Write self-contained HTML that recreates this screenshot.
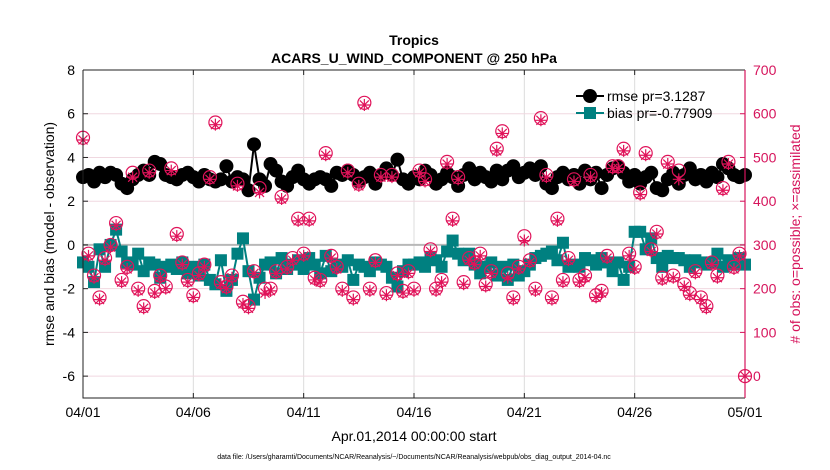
<!DOCTYPE html>
<html><head><meta charset="utf-8"><style>
body{margin:0;background:#fff;}
svg{display:block;font-family:"Liberation Sans",sans-serif;}
</style></head><body>
<svg id="chart" width="830" height="470" xmlns="http://www.w3.org/2000/svg">
<text x="414" y="45" text-anchor="middle" font-size="14" font-weight="bold">Tropics</text>
<text x="414" y="63" text-anchor="middle" font-size="14" font-weight="bold">ACARS_U_WIND_COMPONENT @ 250 hPa</text>
<g id="grid"></g><g id="marks"></g><g id="axes"></g>
<text transform="translate(54,234) rotate(-90)" text-anchor="middle" font-size="14">rmse and bias (model - observation)</text>
<text transform="translate(800,234) rotate(-90)" text-anchor="middle" font-size="14" fill="#d6145c"># of obs: o=possible; ×=assimilated</text>
<text x="414" y="441" text-anchor="middle" font-size="14">Apr.01,2014 00:00:00 start</text>
<text x="414" y="459" text-anchor="middle" font-size="7">data file: /Users/gharamti/Documents/NCAR/Reanalysis/~/Documents/NCAR/Reanalysis/webpub/obs_diag_output_2014-04.nc</text>
<g>
<line x1="576" y1="96" x2="604" y2="96" stroke="#000" stroke-width="2"/><circle cx="590" cy="96" r="7" fill="#000"/>
<text x="607" y="101" font-size="14">rmse pr=3.1287</text>
<line x1="576" y1="113" x2="604" y2="113" stroke="#008080" stroke-width="2"/><rect x="584" y="107" width="12" height="12" fill="#008080"/>
<text x="607" y="118" font-size="14">bias pr=-0.77909</text>
</g>
</svg>
<script>
const xTicks=["04/01","04/06","04/11","04/16","04/21","04/26","05/01"];
const yTicks=[8,6,4,2,0,-2,-4,-6];
const rTicks=[700,600,500,400,300,200,100,0];
const rmse=[3.1,3.2,2.9,3.3,3.1,3.3,3.2,2.8,2.6,3.0,3.2,3.4,3.2,3.8,3.7,3.2,3.1,3.0,3.2,3.3,3.1,2.9,3.2,3.0,2.9,3.0,3.6,2.9,3.1,3.0,2.5,4.6,3.0,2.7,3.7,3.4,2.9,2.7,3.1,3.4,3.0,2.8,3.0,3.1,3.0,2.7,3.3,3.2,3.4,3.2,2.9,3.1,3.3,2.8,3.2,3.5,3.2,3.9,3.0,2.8,3.1,3.0,3.4,3.2,2.8,3.0,3.3,3.1,2.7,3.2,3.5,3.0,3.3,3.1,2.9,3.4,3.0,3.4,3.6,3.1,3.3,3.5,3.2,3.6,2.8,2.6,3.1,3.3,3.0,3.2,2.8,3.4,3.0,3.3,2.6,3.2,3.5,3.6,3.3,2.9,3.2,2.8,3.1,3.3,2.6,2.5,3.0,3.3,2.8,3.2,3.5,3.0,3.2,2.9,3.3,3.1,3.7,3.5,3.2,3.1,3.2];
const bias=[-0.8,-1.0,-1.7,-0.2,-1.0,0.0,0.7,-0.3,-0.8,-0.9,-0.4,-1.2,-0.8,-0.9,-1.5,-1.0,-0.9,-1.1,-0.8,-1.3,-1.0,-1.4,-0.9,-1.6,-1.8,-0.7,-2.1,-1.6,-0.4,0.3,-1.2,-2.5,-1.5,-0.9,-0.8,-1.3,-0.6,-1.1,-0.9,-0.7,-1.1,-0.6,-0.9,-1.3,-0.5,-1.2,-0.9,-1.0,-0.7,-1.6,-0.9,-1.0,-1.2,-0.8,-0.9,-1.0,-1.5,-1.9,-1.2,-0.9,-0.9,-0.8,-1.0,-0.6,-0.7,-1.0,-0.3,0.2,-0.4,-0.7,-0.4,-0.9,-1.3,-1.0,-0.8,-1.4,-1.0,-1.6,-0.9,-1.4,-1.2,-0.9,-0.6,-0.5,-0.4,-0.3,-0.7,0.1,-1.0,-0.9,-1.0,-0.6,-0.7,-0.9,-0.6,-0.8,-1.2,-0.8,-1.6,-1.0,0.6,0.6,-0.2,0.3,-0.6,-1.0,-0.5,-0.6,-0.6,-0.7,-1.0,-0.7,-0.8,-0.9,-0.8,-0.4,-1.0,-0.7,-0.9,-0.6,-0.9];
const obsPossible=[545,280,230,180,270,300,350,220,250,465,200,160,470,195,230,205,475,325,260,220,185,235,255,455,580,215,205,230,440,170,160,240,430,200,200,240,410,250,270,360,280,360,225,220,510,275,250,200,470,180,440,625,200,265,460,190,460,235,195,240,200,470,450,290,200,220,490,360,455,215,270,260,280,210,240,520,560,235,180,250,320,265,200,590,460,180,360,220,270,450,220,230,460,185,195,275,480,480,520,280,250,420,510,290,330,225,490,230,470,210,190,240,180,160,260,230,430,490,250,280,0];
const obsUsed=[540,275,225,175,265,295,345,215,245,455,195,155,465,190,225,200,470,320,255,215,180,230,250,450,575,210,200,225,435,165,155,235,420,190,195,235,405,245,265,355,275,355,220,215,505,270,245,195,465,175,435,620,195,260,455,185,455,230,190,235,195,465,445,285,195,215,485,355,450,210,265,255,275,205,235,515,555,225,175,245,310,260,195,585,455,175,355,215,265,445,215,225,455,180,190,270,475,475,515,275,245,415,505,285,325,220,485,225,450,205,185,235,175,155,255,225,425,485,245,275,0];

const NS="http://www.w3.org/2000/svg";
const X0=83,X1=745,Y0=70,Y1=398;
const xs=d=>X0+(X1-X0)*d/30;
const ys=v=>Y0+(Y1-Y0)*(8-v)/15;
const yr=n=>Y0+(Y1-Y0)*(700-n)/750;
function mk(tag,attrs,parent){const e=document.createElementNS(NS,tag);for(const k in attrs)e.setAttribute(k,attrs[k]);parent.appendChild(e);return e;}
const grid=document.getElementById('grid'),marks=document.getElementById('marks'),axes=document.getElementById('axes');
xTicks.forEach((t,i)=>{const x=xs(i*5);
 if(i>0&&i<6){const g=mk('line',{x1:x,x2:x,y1:Y0,y2:Y1,stroke:'#dcdcdc','stroke-width':1},grid);}
 mk('line',{x1:x,x2:x,y1:Y1,y2:Y1-5,stroke:'#222'},axes);mk('line',{x1:x,x2:x,y1:Y0,y2:Y0+5,stroke:'#222'},axes);
 const tx=mk('text',{x:x,y:Y1+19,'text-anchor':'middle','font-size':14},axes);tx.textContent=t;
 });
rTicks.forEach(n=>{const y=yr(n);
 const g=mk('line',{x1:X0,x2:X1,y1:y,y2:y,stroke:'#f0d8e0','stroke-width':1},grid);
 mk('line',{x1:X1,x2:X1-5,y1:y,y2:y,stroke:'#d6145c'},axes);
 const tx=mk('text',{x:X1+8,y:y+5,'font-size':14,fill:'#d6145c'},axes);tx.textContent=n;
 });
yTicks.forEach(v=>{const y=ys(v);
 mk('line',{x1:X0,x2:X0+5,y1:y,y2:y,stroke:'#222'},axes);
 const tx=mk('text',{x:X0-8,y:y+5,'text-anchor':'end','font-size':14},axes);tx.textContent=v;
 });
const zl=mk('line',{x1:X0,x2:X1,y1:ys(0),y2:ys(0),stroke:'#b8b8b8','stroke-width':2},grid);

// bias
const bl=mk('polyline',{points:bias.map((v,i)=>xs(i/4)+','+ys(v)).join(' '),fill:'none',stroke:'#008080','stroke-width':2},marks);

bias.forEach((v,i)=>{const r=mk('rect',{x:xs(i/4)-6,y:ys(v)-6,width:12,height:12,fill:'#008080'},marks);
 });
// rmse
const rl=mk('polyline',{points:rmse.map((v,i)=>xs(i/4)+','+ys(v)).join(' '),fill:'none',stroke:'#000','stroke-width':2},marks);

rmse.forEach((v,i)=>{const c=mk('circle',{cx:xs(i/4),cy:ys(v),r:7,fill:'#000'},marks);
 });
// obs
const pink='#e0135a';
obsPossible.forEach((n,i)=>{const c=mk('circle',{cx:xs(i/4),cy:yr(n),r:6.5,fill:'none',stroke:pink,'stroke-width':1.2},marks);
 });
obsUsed.forEach((n,i)=>{const x=xs(i/4),y=yr(n);
 const g=mk('path',{d:`M${x-6},${y}H${x+6}M${x},${y-6}V${y+6}M${x-4.5},${y-4.5}L${x+4.5},${y+4.5}M${x-4.5},${y+4.5}L${x+4.5},${y-4.5}`,stroke:pink,'stroke-width':1.2,fill:'none'},marks);
 });
// frame
mk('path',{d:`M${X0},${Y0}H${X1}M${X0},${Y0}V${Y1}H${X1}`,stroke:'#222','stroke-width':1,fill:'none'},axes);
mk('line',{x1:X1,x2:X1,y1:Y0,y2:Y1,stroke:'#d6145c','stroke-width':1.2},axes);
</script>
</body></html>
